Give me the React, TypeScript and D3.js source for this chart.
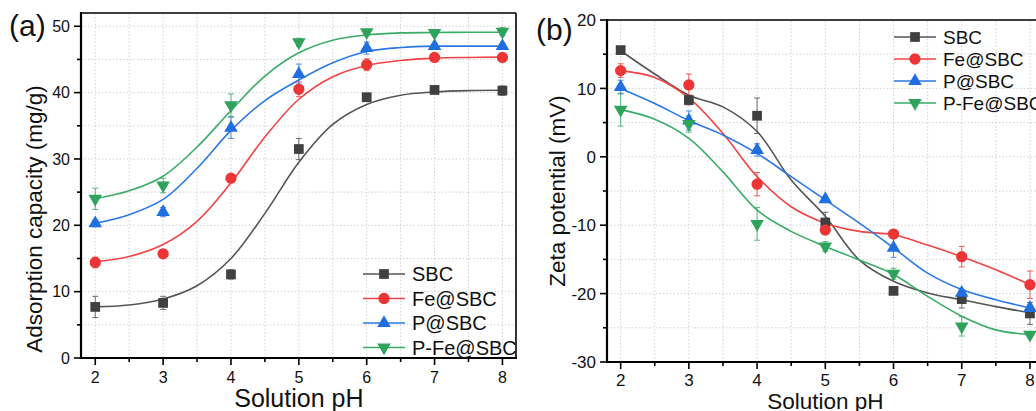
import React from "react";
import * as d3 from "d3";

// ---------- data ----------
const pH = [2, 3, 4, 5, 6, 7, 8];
const fitPH = [2, 2.5, 3, 3.5, 4, 4.5, 5, 5.5, 6, 6.5, 7, 7.5, 8];
const seriesNames = ["SBC", "Fe@SBC", "P@SBC", "P-Fe@SBC"];
const seriesColors = ["#404040", "#ee3535", "#1f6fe0", "#2ea35b"];
const lineColors = ["#555555", "#ef4444", "#2b78e4", "#3aac66"];

// (a) adsorption capacity (mg/g)
const adsSBC = [7.7, 8.3, 12.6, 31.5, 39.3, 40.4, 40.3];
const adsFe = [14.4, 15.7, 27.1, 40.5, 44.2, 45.3, 45.3];
const adsP = [20.3, 22.0, 34.7, 42.8, 46.7, 47.0, 47.0];
const adsPFe = [24.0, 26.0, 38.1, 47.6, 49.1, 49.0, 49.2];
const adsErrSBC = [1.6, 1.0, 0.7, 1.6, 0.6, 0.3, 0.7];
const adsErrFe = [0.8, 0.4, 0.5, 1.1, 0.9, 0.4, 0.4];
const adsErrP = [0.5, 0.7, 1.6, 1.5, 0.9, 0.4, 0.4];
const adsErrPFe = [1.6, 1.1, 1.7, 0.6, 0.4, 0.4, 0.6];
const adsFitSBC = [7.7, 8.0, 8.9, 10.9, 15.0, 21.8, 29.5, 35.2, 38.2, 39.6, 40.1, 40.3, 40.35];
const adsFitFe = [14.5, 15.3, 17.1, 20.6, 26.4, 33.3, 39.0, 42.4, 44.1, 44.85, 45.2, 45.3, 45.35];
const adsFitP = [20.3, 21.6, 23.9, 28.6, 34.3, 38.8, 41.9, 44.5, 46.2, 46.8, 47.0, 47.0, 47.0];
const adsFitPFe = [24.0, 25.2, 27.4, 31.8, 37.3, 42.5, 46.0, 47.9, 48.7, 49.0, 49.05, 49.1, 49.1];

// (b) zeta potential (mV)
const zetaSBC = [15.6, 8.3, 6.0, -9.6, -19.6, -20.8, -22.9];
const zetaFe = [12.6, 10.5, -4.0, -10.7, -11.3, -14.6, -18.7];
const zetaP = [10.2, 5.3, 1.0, -6.2, -13.3, -19.9, -22.1];
const zetaPFe = [6.9, 4.8, -9.8, -13.1, -17.1, -24.8, -26.0];
const zetaErrSBC = [0.3, 0.7, 2.6, 1.5, 0.3, 1.3, 1.6];
const zetaErrFe = [1.0, 1.6, 1.7, 0.5, 0.6, 1.5, 2.0];
const zetaErrP = [1.0, 1.4, 0.9, 0.3, 1.4, 0.5, 0.4];
const zetaErrPFe = [2.4, 1.2, 2.4, 0.7, 0.8, 1.4, 0.3];
const zetaFitSBC = [15.5, 12.1, 9.0, 7.3, 3.7, -3.4, -8.7, -15.1, -18.2, -19.9, -20.9, -21.9, -22.8];
const zetaFitFe = [12.6, 11.6, 8.6, 3.4, -2.9, -7.3, -9.7, -10.9, -11.4, -12.9, -14.6, -16.5, -18.7];
const zetaFitP = [10.0, 7.8, 5.3, 3.2, 0.5, -2.9, -6.3, -9.7, -13.3, -17.0, -19.4, -20.9, -22.1];
const zetaFitPFe = [6.9, 5.5, 2.7, -2.2, -7.8, -10.9, -13.1, -15.1, -17.2, -20.4, -23.3, -25.3, -26.0];

const xTicks = [2, 3, 4, 5, 6, 7, 8];
const adsTicks = [0, 10, 20, 30, 40, 50];
const zetaTicks = [-30, -20, -10, 0, 10, 20];

const FONT = "'Liberation Sans', Arial, Helvetica, sans-serif";

const symbols = [d3.symbolSquare, d3.symbolCircle, d3.symbolTriangle, d3.symbolTriangle];
const symbolSizes = [95, 100, 80, 80];
const symbolRot = [0, 0, 0, 180];

function Marker({ i, x, y }: { i: number; x: number; y: number }) {
  const p = d3.symbol().type(symbols[i]).size(symbolSizes[i])() as string;
  return (
    <path
      d={p}
      transform={`translate(${x},${y}) rotate(${symbolRot[i]})`}
      fill={seriesColors[i]}
    />
  );
}

type PanelProps = {
  xDomain: [number, number];
  xRange: [number, number];
  yDomain: [number, number];
  yRange: [number, number];
  yTicks: number[];
  yMinorStep: number;
  values: number[][];
  errs: number[][];
  fits: number[][];
  tickFont: number;
  label: string;
  labelX: number;
  labelY: number;
  yTitle: string;
  yTitleX: number;
  yTitleY: number;
  xTitleY: number;
  xTitleFont: number;
  legendX: number;
  legendY0: number;
  legendDy: number;
  legendFont: number;
  xLabelBaseline: number;
};

function Panel(p: PanelProps) {
  const x = d3.scaleLinear().domain(p.xDomain).range(p.xRange);
  const y = d3.scaleLinear().domain(p.yDomain).range(p.yRange);
  const [x0, x1] = p.xRange;
  const [yb, yt] = p.yRange;
  const xMinor = d3.range(2, 8.01, 0.5);
  const yMin = p.yTicks[0];
  const yMax = p.yTicks[p.yTicks.length - 1];
  const yMinor = d3.range(yMin, yMax + 0.01, p.yMinorStep);
  const line = d3
    .line<[number, number]>()
    .x((d) => x(d[0]))
    .y((d) => y(d[1]))
    .curve(d3.curveCatmullRom.alpha(0.5));

  return (
    <g fontFamily={FONT}>
      {/* grid */}
      {xMinor.map((v) => (
        <line key={"gx" + v} x1={x(v)} x2={x(v)} y1={yb} y2={yt} stroke="#d2d2d2" strokeWidth={1} strokeDasharray="1.5,2" />
      ))}
      {yMinor.map((v) => (
        <line key={"gy" + v} x1={x0} x2={x1} y1={y(v)} y2={y(v)} stroke="#d2d2d2" strokeWidth={1} strokeDasharray="1.5,2" />
      ))}
      {/* fit curves */}
      {p.fits.map((f, i) => (
        <path
          key={"f" + i}
          d={line(fitPH.map((v, k) => [v, f[k]] as [number, number])) as string}
          fill="none"
          stroke={lineColors[i]}
          strokeWidth={1.6}
        />
      ))}
      {/* error bars */}
      {p.values.map((vals, i) =>
        vals.map((v, k) => {
          const e = p.errs[i][k];
          const cx = x(pH[k]);
          return (
            <g key={"e" + i + "-" + k} stroke={lineColors[i]} strokeWidth={1} opacity={0.85}>
              <line x1={cx} x2={cx} y1={y(v - e)} y2={y(v + e)} />
              <line x1={cx - 3} x2={cx + 3} y1={y(v - e)} y2={y(v - e)} />
              <line x1={cx - 3} x2={cx + 3} y1={y(v + e)} y2={y(v + e)} />
            </g>
          );
        })
      )}
      {/* markers */}
      {p.values.map((vals, i) =>
        vals.map((v, k) => <Marker key={"m" + i + "-" + k} i={i} x={x(pH[k])} y={y(v)} />)
      )}
      {/* frame */}
      <line x1={x0} x2={x1} y1={yt} y2={yt} stroke="#000" strokeWidth={1.6} />
      <line x1={x1} x2={x1} y1={yt} y2={yb} stroke="#000" strokeWidth={1.6} />
      <line x1={x0} x2={x1 + 1} y1={yb} y2={yb} stroke="#000" strokeWidth={2.2} />
      <line x1={x0} x2={x0} y1={yt - 1} y2={yb + 1} stroke="#000" strokeWidth={2.2} />
      {/* x ticks */}
      {xMinor.map((v) => (
        <line
          key={"tx" + v}
          x1={x(v)}
          x2={x(v)}
          y1={yb}
          y2={yb + (Number.isInteger(v) ? 7 : 4)}
          stroke="#000"
          strokeWidth={1.6}
        />
      ))}
      {xTicks.map((v) => (
        <text key={"lx" + v} x={x(v)} y={p.xLabelBaseline} textAnchor="middle" fontSize={p.tickFont} fill="#111">
          {v}
        </text>
      ))}
      {/* y ticks */}
      {yMinor.map((v) => (
        <line
          key={"ty" + v}
          x1={x0 - (p.yTicks.includes(v) ? 7 : 4)}
          x2={x0}
          y1={y(v)}
          y2={y(v)}
          stroke="#000"
          strokeWidth={1.6}
        />
      ))}
      {p.yTicks.map((v) => (
        <text
          key={"ly" + v}
          x={x0 - 11}
          y={y(v)}
          dy="0.36em"
          textAnchor="end"
          fontSize={p.tickFont}
          fill="#111"
        >
          {v}
        </text>
      ))}
      {/* titles */}
      <text
        x={(x(2) + x(8)) / 2}
        y={p.xTitleY}
        textAnchor="middle"
        fontSize={p.xTitleFont}
        fill="#111"
      >
        Solution pH
      </text>
      <text
        transform={`translate(${p.yTitleX},${p.yTitleY}) rotate(-90)`}
        textAnchor="middle"
        dy="0.36em"
        fontSize={22.5}
        fill="#111"
      >
        {p.yTitle}
      </text>
      <text x={p.labelX} y={p.labelY} fontSize={30} fill="#111">
        {p.label}
      </text>
      {/* legend */}
      {seriesNames.map((n, i) => {
        const ly = p.legendY0 + i * p.legendDy;
        return (
          <g key={"lg" + i}>
            <line x1={p.legendX} x2={p.legendX + 42} y1={ly} y2={ly} stroke={lineColors[i]} strokeWidth={1.6} />
            <Marker i={i} x={p.legendX + 21} y={ly} />
            <text x={p.legendX + 49} y={ly} dy="0.36em" fontSize={p.legendFont} fill="#111">
              {n}
            </text>
          </g>
        );
      })}
    </g>
  );
}

export default function App() {
  return (
    <svg
      width={1036}
      height={411}
      style={{ position: "absolute", left: 0, top: 0, background: "#fff" }}
    >
      <rect width={1036} height={411} fill="#fff" />
      <Panel
        xDomain={[1.79, 8.2]}
        xRange={[81, 516]}
        yDomain={[0, 52]}
        yRange={[358, 13]}
        yTicks={adsTicks}
        yMinorStep={5}
        values={[adsSBC, adsFe, adsP, adsPFe]}
        errs={[adsErrSBC, adsErrFe, adsErrP, adsErrPFe]}
        fits={[adsFitSBC, adsFitFe, adsFitP, adsFitPFe]}
        tickFont={16}
        label="(a)"
        labelX={9}
        labelY={36}
        yTitle="Adsorption capacity (mg/g)"
        yTitleX={34}
        yTitleY={219}
        xTitleY={407}
        xTitleFont={25}
        legendX={363}
        legendY0={274}
        legendDy={24.5}
        legendFont={20}
        xLabelBaseline={383}
      />
      <Panel
        xDomain={[1.8, 8.2]}
        xRange={[607, 1043.6]}
        yDomain={[-30, 20]}
        yRange={[362, 20]}
        yTicks={zetaTicks}
        yMinorStep={5}
        values={[zetaSBC, zetaFe, zetaP, zetaPFe]}
        errs={[zetaErrSBC, zetaErrFe, zetaErrP, zetaErrPFe]}
        fits={[zetaFitSBC, zetaFitFe, zetaFitP, zetaFitPFe]}
        tickFont={17}
        label="(b)"
        labelX={536}
        labelY={40}
        yTitle="Zeta potential (mV)"
        yTitleX={557}
        yTitleY={191}
        xTitleY={409}
        xTitleFont={22.5}
        legendX={894}
        legendY0={37}
        legendDy={22}
        legendFont={19}
        xLabelBaseline={386}
      />
    </svg>
  );
}
